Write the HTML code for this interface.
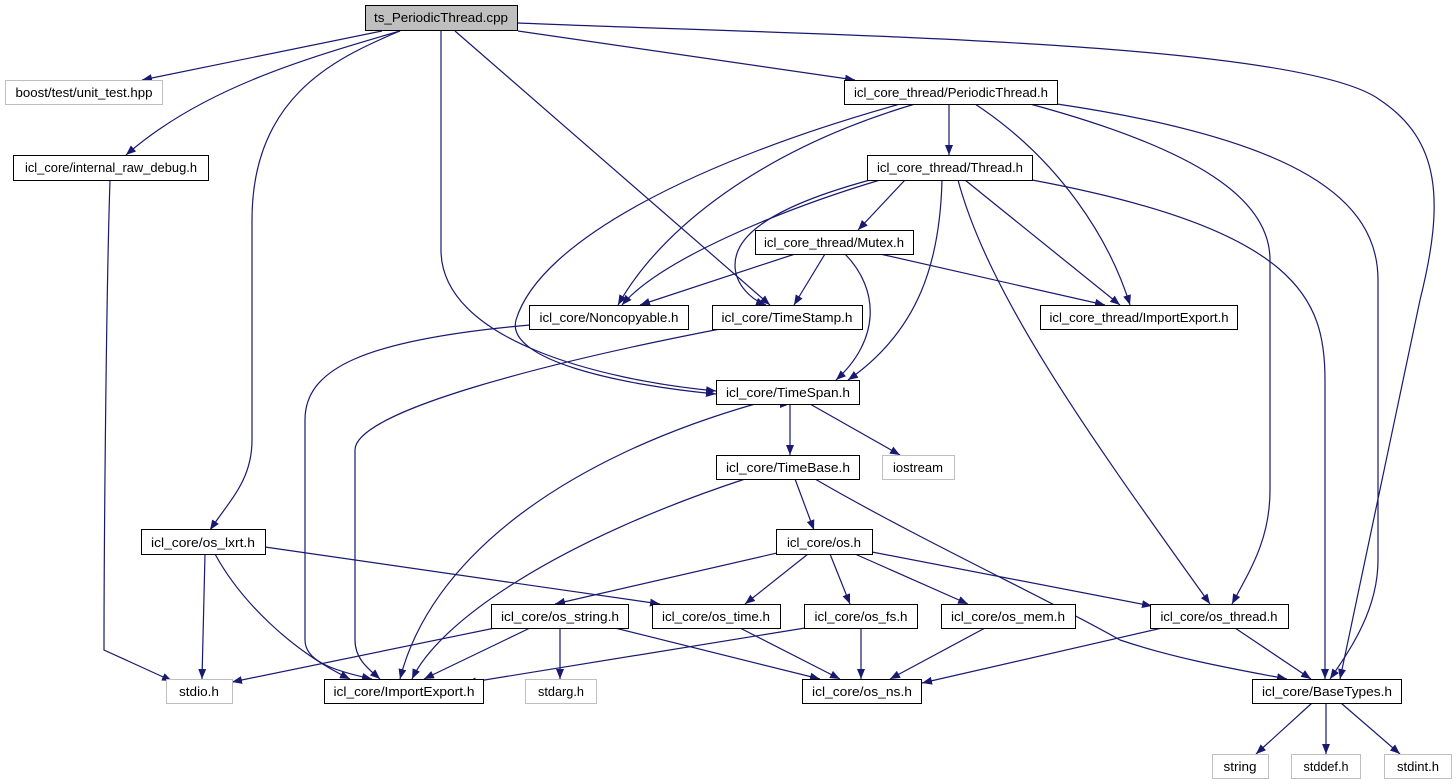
<!DOCTYPE html>
<html><head><meta charset="utf-8"><style>
html,body{margin:0;padding:0;background:#fff;}
svg{display:block;}
text{font-family:"Liberation Sans",sans-serif;font-size:12.5px;fill:#000;}
</style></head><body>
<svg width="1456" height="784" viewBox="0 0 1456 784" xmlns="http://www.w3.org/2000/svg">
<defs>
<marker id="a" viewBox="0 0 10 8" refX="10" refY="4" markerWidth="10" markerHeight="8" markerUnits="userSpaceOnUse" orient="auto">
<path d="M0,0 L10,4 L0,8 z" fill="#191970"/>
</marker>
</defs>
<g fill="none" stroke="#191970" stroke-width="1.2" marker-end="url(#a)">
<path d="M382,31 L142,80"/>
<path d="M400,31 C300,60 200,90 126,155"/>
<path d="M400,31 C330,60 252,100 252,220 L252,440 C252,480 230,500 210,530"/>
<path d="M441,31 L441,250 C441,340 600,380 716,391"/>
<path d="M455,31 L770,305"/>
<path d="M518,31 L855,80"/>
<path d="M518,23 C800,35 1300,40 1380,100 C1440,140 1445,200 1420,300 L1340,679"/>
<path d="M110,180 C106,300 104,560 104,650 L172,681"/>
<path d="M915,104 C760,150 660,230 618,305"/>
<path d="M900,104 C700,160 540,240 516,320 C505,360 620,385 716,394"/>
<path d="M949,104 L949,155"/>
<path d="M975,104 C1060,160 1110,240 1130,305"/>
<path d="M1030,104 C1200,150 1270,200 1270,260 L1270,490 C1270,540 1250,570 1232,604"/>
<path d="M1057,104 C1300,140 1378,200 1378,280 L1378,560 C1378,610 1350,650 1330,679"/>
<path d="M905,180 L858,230"/>
<path d="M880,180 C780,210 660,260 622,305"/>
<path d="M870,180 C760,210 735,240 735,265 C735,285 752,300 766,305"/>
<path d="M942,180 C940,260 920,330 848,380"/>
<path d="M965,180 L1120,305"/>
<path d="M958,180 C990,300 1100,450 1210,604"/>
<path d="M1032,180 C1300,230 1325,300 1325,380 L1325,679"/>
<path d="M795,254 L640,305"/>
<path d="M825,254 L794,305"/>
<path d="M845,254 C880,290 880,340 836,380"/>
<path d="M880,254 L1105,305"/>
<path d="M530,325 C360,340 305,370 305,420 L305,640 C305,660 330,670 372,679"/>
<path d="M720,329 C560,360 355,410 355,450 L355,640 C355,660 370,670 380,679"/>
<path d="M755,404 C560,460 430,560 400,679"/>
<path d="M790,404 L790,455"/>
<path d="M810,404 L900,455"/>
<path d="M790,404 L790,404"/>
<path d="M745,479 C560,540 440,620 412,679"/>
<path d="M795,479 L814,530"/>
<path d="M815,479 C920,540 1050,600 1120,640 C1180,660 1240,670 1287,679"/>
<path d="M790,550 L555,604"/>
<path d="M808,554 L745,604"/>
<path d="M830,554 L850,604"/>
<path d="M855,554 L968,604"/>
<path d="M872,552 L1152,606"/>
<path d="M205,554 L202,679"/>
<path d="M215,554 C240,600 290,650 350,679"/>
<path d="M265,547 L660,604"/>
<path d="M495,628 L232,682"/>
<path d="M530,628 L424,679"/>
<path d="M560,628 L560,679"/>
<path d="M615,628 L820,679"/>
<path d="M740,628 L840,679"/>
<path d="M805,628 L466,683"/>
<path d="M861,628 L861,679"/>
<path d="M985,628 L890,679"/>
<path d="M1162,628 L922,683"/>
<path d="M1235,628 L1311,679"/>
<path d="M1312,703 L1256,754"/>
<path d="M1326,703 L1326,754"/>
<path d="M1341,703 L1400,754"/>
</g>
<g stroke-width="1">
<rect x="365.5" y="5.5" width="152" height="25" fill="#bfbfbf" stroke="#000"/>
<rect x="5.5" y="80.5" width="157" height="24" fill="#fff" stroke="#bfbfbf"/>
<rect x="13.5" y="155.5" width="195" height="25" fill="#fff" stroke="#000"/>
<rect x="844.5" y="80.5" width="213" height="24" fill="#fff" stroke="#000"/>
<rect x="867.5" y="155.5" width="165" height="25" fill="#fff" stroke="#000"/>
<rect x="755.5" y="230.5" width="158" height="24" fill="#fff" stroke="#000"/>
<rect x="529.5" y="305.5" width="159" height="24" fill="#fff" stroke="#000"/>
<rect x="712.5" y="305.5" width="150" height="24" fill="#fff" stroke="#000"/>
<rect x="1040.5" y="305.5" width="197" height="24" fill="#fff" stroke="#000"/>
<rect x="716.5" y="380.5" width="143" height="24" fill="#fff" stroke="#000"/>
<rect x="882.5" y="455.5" width="72" height="24" fill="#fff" stroke="#bfbfbf"/>
<rect x="716.5" y="455.5" width="143" height="24" fill="#fff" stroke="#000"/>
<rect x="776.5" y="529.5" width="96" height="25" fill="#fff" stroke="#000"/>
<rect x="141.5" y="529.5" width="124" height="25" fill="#fff" stroke="#000"/>
<rect x="491.5" y="604.5" width="137" height="24" fill="#fff" stroke="#000"/>
<rect x="652.5" y="604.5" width="128" height="24" fill="#fff" stroke="#000"/>
<rect x="804.5" y="604.5" width="113" height="24" fill="#fff" stroke="#000"/>
<rect x="941.5" y="604.5" width="134" height="24" fill="#fff" stroke="#000"/>
<rect x="1150.5" y="604.5" width="138" height="24" fill="#fff" stroke="#000"/>
<rect x="166.5" y="679.5" width="66" height="24" fill="#fff" stroke="#bfbfbf"/>
<rect x="324.5" y="679.5" width="159" height="24" fill="#fff" stroke="#000"/>
<rect x="525.5" y="679.5" width="71" height="24" fill="#fff" stroke="#bfbfbf"/>
<rect x="802.5" y="679.5" width="119" height="24" fill="#fff" stroke="#000"/>
<rect x="1252.5" y="679.5" width="149" height="24" fill="#fff" stroke="#000"/>
<rect x="1212.5" y="754.5" width="56" height="24" fill="#fff" stroke="#bfbfbf"/>
<rect x="1291.5" y="754.5" width="69" height="24" fill="#fff" stroke="#bfbfbf"/>
<rect x="1384.5" y="754.5" width="67" height="24" fill="#fff" stroke="#bfbfbf"/>
</g>
<g text-anchor="middle">
<text x="441" y="22" textLength="134" lengthAdjust="spacingAndGlyphs">ts_PeriodicThread.cpp</text>
<text x="84" y="97" textLength="137" lengthAdjust="spacingAndGlyphs">boost/test/unit_test.hpp</text>
<text x="111" y="172" textLength="172" lengthAdjust="spacingAndGlyphs">icl_core/internal_raw_debug.h</text>
<text x="951" y="97" textLength="194" lengthAdjust="spacingAndGlyphs">icl_core_thread/PeriodicThread.h</text>
<text x="950" y="172" textLength="146" lengthAdjust="spacingAndGlyphs">icl_core_thread/Thread.h</text>
<text x="834" y="247" textLength="140" lengthAdjust="spacingAndGlyphs">icl_core_thread/Mutex.h</text>
<text x="609" y="322" textLength="139" lengthAdjust="spacingAndGlyphs">icl_core/Noncopyable.h</text>
<text x="787" y="322" textLength="131" lengthAdjust="spacingAndGlyphs">icl_core/TimeStamp.h</text>
<text x="1139" y="322" textLength="179" lengthAdjust="spacingAndGlyphs">icl_core_thread/ImportExport.h</text>
<text x="788" y="397" textLength="124" lengthAdjust="spacingAndGlyphs">icl_core/TimeSpan.h</text>
<text x="918" y="472" textLength="50" lengthAdjust="spacingAndGlyphs">iostream</text>
<text x="788" y="472" textLength="124" lengthAdjust="spacingAndGlyphs">icl_core/TimeBase.h</text>
<text x="824" y="547" textLength="74" lengthAdjust="spacingAndGlyphs">icl_core/os.h</text>
<text x="203" y="547" textLength="104" lengthAdjust="spacingAndGlyphs">icl_core/os_lxrt.h</text>
<text x="560" y="621" textLength="118" lengthAdjust="spacingAndGlyphs">icl_core/os_string.h</text>
<text x="716" y="621" textLength="108" lengthAdjust="spacingAndGlyphs">icl_core/os_time.h</text>
<text x="861" y="621" textLength="93" lengthAdjust="spacingAndGlyphs">icl_core/os_fs.h</text>
<text x="1008" y="621" textLength="114" lengthAdjust="spacingAndGlyphs">icl_core/os_mem.h</text>
<text x="1219" y="621" textLength="117" lengthAdjust="spacingAndGlyphs">icl_core/os_thread.h</text>
<text x="199" y="696" textLength="40" lengthAdjust="spacingAndGlyphs">stdio.h</text>
<text x="404" y="696" textLength="141" lengthAdjust="spacingAndGlyphs">icl_core/ImportExport.h</text>
<text x="561" y="696" textLength="46" lengthAdjust="spacingAndGlyphs">stdarg.h</text>
<text x="862" y="696" textLength="100" lengthAdjust="spacingAndGlyphs">icl_core/os_ns.h</text>
<text x="1327" y="696" textLength="130" lengthAdjust="spacingAndGlyphs">icl_core/BaseTypes.h</text>
<text x="1240" y="771" textLength="33" lengthAdjust="spacingAndGlyphs">string</text>
<text x="1326" y="771" textLength="45" lengthAdjust="spacingAndGlyphs">stddef.h</text>
<text x="1418" y="771" textLength="42" lengthAdjust="spacingAndGlyphs">stdint.h</text>
</g>
</svg>
</body></html>
